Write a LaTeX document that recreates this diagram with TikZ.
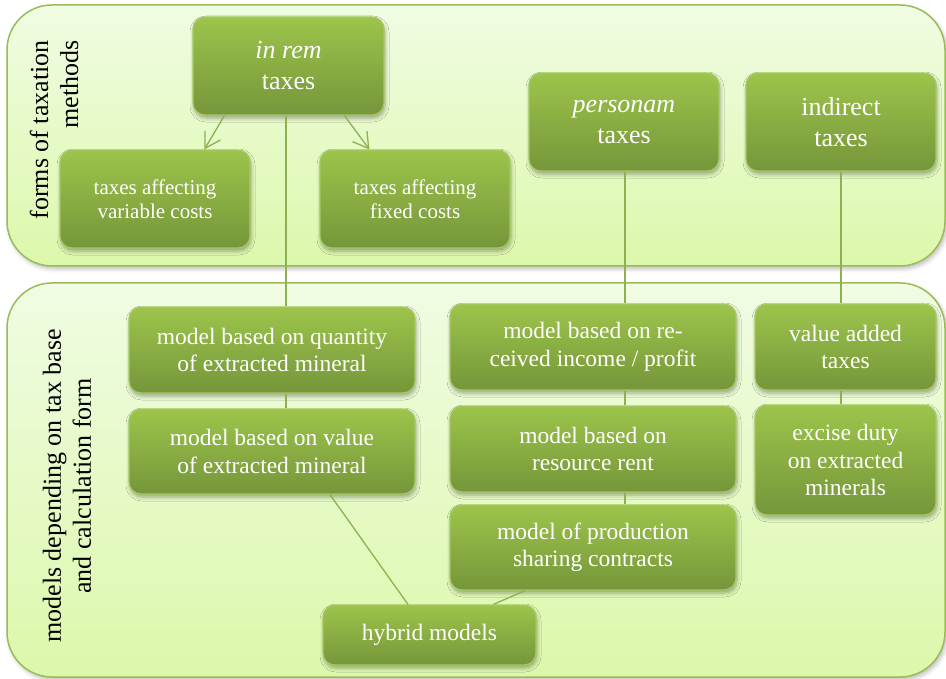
\documentclass[tikz,border=0pt]{standalone}
\usepackage{fontspec}
\setmainfont{Liberation Serif}
\usetikzlibrary{shadows.blur,arrows.meta,calc}
\definecolor{boxtop}{HTML}{9DC44B}
\definecolor{boxbot}{HTML}{75963A}
\definecolor{boxedge}{HTML}{A6C963}
\definecolor{paneltop}{HTML}{F0FCE3}
\definecolor{panelbot}{HTML}{DCF8AB}
\definecolor{paneledge}{HTML}{9BBB59}
\definecolor{linkc}{HTML}{8DB150}
\begin{document}
\begin{tikzpicture}[x=1pt,y=-1pt,
  panel/.style={draw=paneledge, line width=1.5pt, rounded corners=45pt, top color=paneltop, bottom color=panelbot, inner sep=0pt,
    blur shadow={shadow xshift=2pt, shadow yshift=-3pt, shadow blur radius=4pt, shadow opacity=25}},
  box/.style={draw=boxedge, line width=1.2pt, rounded corners=12pt, top color=boxtop, bottom color=boxbot, text=white, align=center, inner sep=2pt,
    blur shadow={shadow xshift=1pt, shadow yshift=-3pt, shadow blur radius=4pt, shadow opacity=35}},
  bigtxt/.style={font=\fontsize{26}{31}\selectfont},
  midtxt/.style={font=\fontsize{23.5}{27.5}\selectfont},
  smalltxt/.style={font=\fontsize{21}{24}\selectfont},
  lab/.style={rotate=90, font=\fontsize{26}{30}\selectfont, text=black},
  link/.style={draw=linkc, line width=1.3pt},
  arr/.style={link, -{Straight Barb[length=15pt,width=18pt,line width=1.3pt]}}
]
\useasboundingbox (0,0) rectangle (946,679);

% panels
\node[panel, minimum width=938pt, minimum height=261pt] (p1) at (476,135.5) {};
\node[panel, minimum width=938pt, minimum height=394pt] (p2) at (476,480) {};
\node[lab, align=right] (l1) at (54,130) {forms of taxation\\methods};
\node[lab, align=center] (l2) at (67,486) {models depending on tax base\\and calculation form};

% top boxes
\node[box, bigtxt, minimum width=191pt, minimum height=98pt] (inrem) at (288.5,66) {\textit{in rem}\\taxes};
\node[box, smalltxt, minimum width=190pt, minimum height=98pt] (var) at (155,199) {taxes affecting\\variable costs};
\node[box, smalltxt, minimum width=190pt, minimum height=98pt] (fix) at (415,199) {taxes affecting\\fixed costs};
\node[box, bigtxt, minimum width=190pt, minimum height=98pt] (pers) at (624,122) {\textit{personam}\\taxes};
\node[box, bigtxt, minimum width=190pt, minimum height=98pt] (ind) at (841,122) {indirect\\taxes};

\coordinate (a) at ($(inrem.south)+(-2.5,0)$);
\coordinate (b) at ($(pers.south)+(1,0)$);
\coordinate (c) at (ind.south);

% bottom boxes
\node[box, midtxt, minimum width=286pt, minimum height=86pt] (qty) at (272,350) {model based on quantity\\of extracted mineral};
\node[box, midtxt, minimum width=286pt, minimum height=85pt] (val) at (272,451.5) {model based on value\\of extracted mineral};
\node[box, midtxt, minimum width=286pt, minimum height=86pt] (inc) at (593,347) {model based on re-\\ceived income / profit};
\node[box, midtxt, minimum width=286pt, minimum height=86pt] (rent) at (593,449) {model based on\\resource rent};
\node[box, midtxt, minimum width=286pt, minimum height=85pt] (psc) at (593,547.5) {model of production\\sharing contracts};
\node[box, midtxt, minimum width=181pt, minimum height=86pt] (vat) at (845.5,347) {value added\\taxes};
\node[box, midtxt, minimum width=181pt, minimum height=110pt] (exc) at (845.5,460) {excise duty\\on extracted\\minerals};
\node[box, midtxt, minimum width=213pt, minimum height=60pt] (hyb) at (429.5,635) {hybrid models};

% arrows
\draw[arr] ($(inrem.south west)+(32,0)$) -- ($(var.north west)+(145,0)$);
\draw[arr] ($(inrem.south west)+(152,0)$) -- ($(fix.north west)+(50,0)$);

% vertical links
\draw[link] (a) -- (a |- qty.north);
\draw[link] (a |- qty.south) -- (a |- val.north);
\draw[link] (b) -- (b |- inc.north);
\draw[link] (b |- inc.south) -- (b |- rent.north);
\draw[link] (b |- rent.south) -- (b |- psc.north);
\draw[link] (c) -- (c |- vat.north);
\draw[link] (c |- vat.south) -- (c |- exc.north);

% links to hybrid
\draw[link] ($(val.south)+(58,0)$) -- ($(hyb.north)+(-21.5,0)$);
\draw[link] ($(psc.south)+(-68,0)$) -- ($(hyb.north)+(64,0)$);
\end{tikzpicture}
\end{document}
